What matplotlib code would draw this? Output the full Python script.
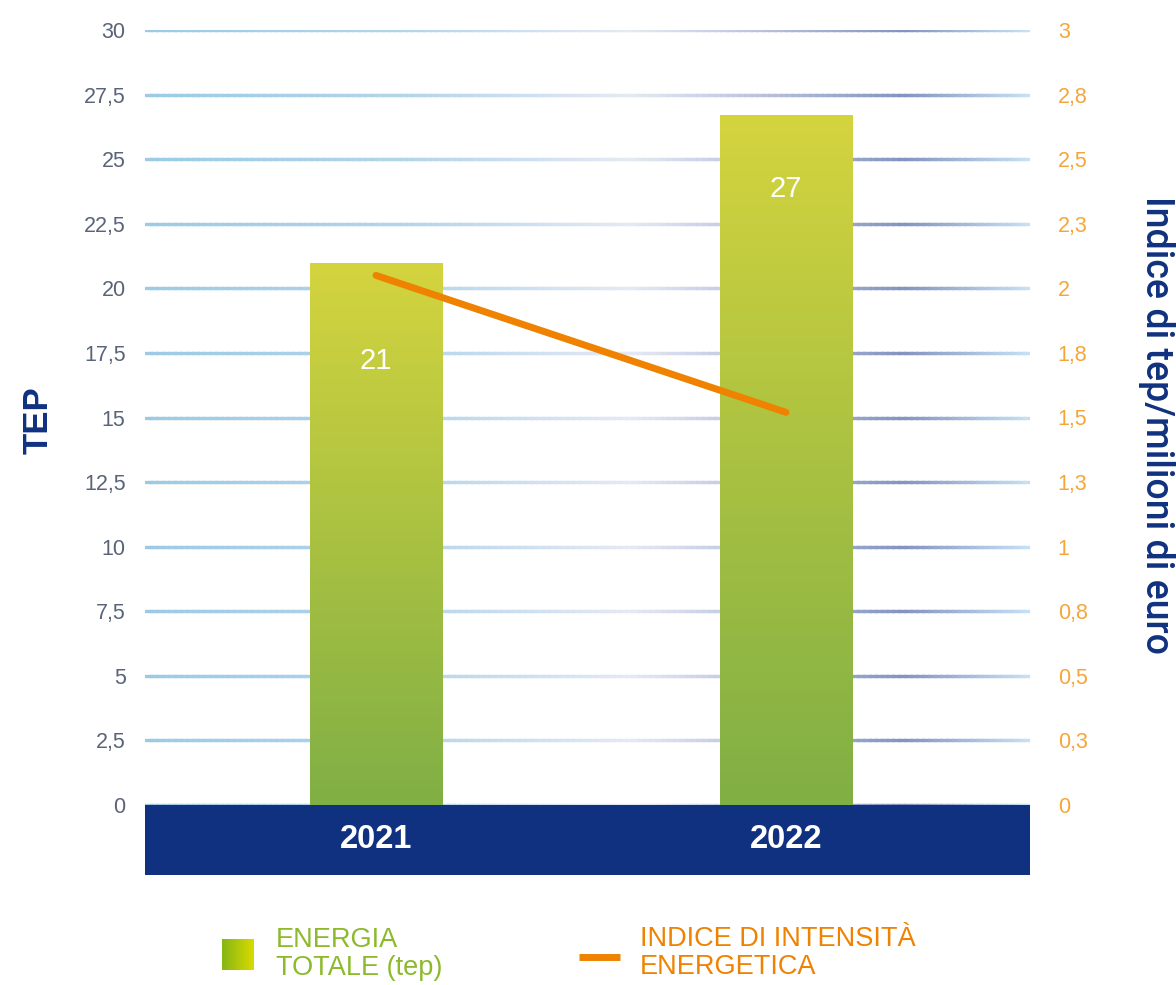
import numpy as np
import matplotlib.pyplot as plt
from matplotlib.collections import LineCollection
from matplotlib.colors import LinearSegmentedColormap
from matplotlib.patches import Rectangle
from matplotlib.lines import Line2D

# dati
years = ['2021', '2022']
energia_tep = [21.0, 26.7]
energia_labels = ['21', '27']
indice_intensita = [2.05, 1.52]

left_ticks = [0, 2.5, 5, 7.5, 10, 12.5, 15, 17.5, 20, 22.5, 25, 27.5, 30]
left_tick_labels = ['0', '2,5', '5', '7,5', '10', '12,5', '15', '17,5', '20', '22,5', '25', '27,5', '30']
right_ticks = [0, 0.25, 0.5, 0.75, 1, 1.25, 1.5, 1.75, 2, 2.25, 2.5, 2.75, 3]
right_tick_labels = ['0', '0,3', '0,5', '0,8', '1', '1,3', '1,5', '1,8', '2', '2,3', '2,5', '2,8', '3']

NAVY = '#10317f'
ORANGE = '#ef8200'
GREEN_TXT = '#8cba2c'

plt.rcParams['font.family'] = ['Liberation Sans', 'DejaVu Sans']

W, H = 1176, 985
fig = plt.figure(figsize=(W / 100, H / 100), dpi=100)
ax = fig.add_axes([145 / W, 1 - 805 / H, 885 / W, 775 / H])
x = np.arange(len(years))

# griglia con sfumatura
grid_cmap = LinearSegmentedColormap.from_list('grid', [
    (0.0, '#9ccae5'), (0.3, '#b3d5eb'), (0.55, '#e5e9f4'),
    (0.7, '#b8c2de'), (0.86, '#8494c0'), (1.0, '#c4e0f5')])
xs = np.linspace(0, 1, 150)
segs, cols = [], []
for yv in left_ticks:
    for i in range(len(xs) - 1):
        segs.append([(xs[i], yv), (xs[i + 1], yv)])
        cols.append(grid_cmap((xs[i] + xs[i + 1]) / 2))
lc = LineCollection(segs, colors=cols, linewidths=2.4,
                    transform=ax.get_yaxis_transform(), zorder=1, capstyle='projecting')
ax.add_collection(lc)

# barre con gradiente verticale
bar_cmap = LinearSegmentedColormap.from_list('bar', ['#80af45', '#d4d43e'])
bars = ax.bar(x, energia_tep, width=0.322, color='none', edgecolor='none', zorder=2)
grad = np.linspace(1, 0, 256).reshape(-1, 1)
for b in bars:
    im = ax.imshow(grad, extent=[b.get_x(), b.get_x() + b.get_width(), 0, b.get_height()],
                   cmap=bar_cmap, aspect='auto', origin='upper', zorder=2)
    im.set_clip_path(b)

label_offsets = [71, 53]
for xi, h, lab, off in zip(x, energia_tep, energia_labels, label_offsets):
    ax.annotate(lab, (xi, h), xytext=(0, -off), textcoords='offset points',
                ha='center', va='center', color='white', fontsize=21, zorder=4)

ax.set_xlim(-0.5634, 1.595)
ax.set_ylim(0, 30)
ax.set_yticks(left_ticks, left_tick_labels)
ax.tick_params(axis='y', length=0, pad=14, labelsize=15.5, labelcolor='#5a6479')
ax.set_xticks([])
for s in ax.spines.values():
    s.set_visible(False)

# banda blu con anni
ax.add_patch(Rectangle((0, -0.0903), 1, 0.0903, transform=ax.transAxes,
                       facecolor=NAVY, edgecolor='none', clip_on=False, zorder=3))
for xi, yr in zip(x, years):
    ax.text(xi, -0.045, yr, transform=ax.get_xaxis_transform(), ha='center', va='center',
            color='white', fontsize=23.5, fontweight='bold', zorder=4)

# linea indice
ax2 = ax.twinx()
ax2.plot(x, indice_intensita, color=ORANGE, lw=5, solid_capstyle='round', zorder=3)
ax2.set_ylim(0, 3)
ax2.set_yticks(right_ticks, right_tick_labels)
ax2.tick_params(axis='y', length=0, pad=20, labelsize=15.5, labelcolor='#f5a63a')
for s in ax2.spines.values():
    s.set_visible(False)

fig.text(38 / W, 1 - 420 / H, 'TEP', rotation=90, ha='center', va='center',
         fontsize=25, fontweight='bold', color=NAVY)
fig.text(1156 / W, 1 - 425 / H, 'Indice di tep/milioni di euro', rotation=-90,
         ha='center', va='center', fontsize=27, fontweight='medium', color=NAVY,
         family=['Roboto', 'DejaVu Sans'])

# legenda
lax = fig.add_axes([222 / W, 1 - 970 / H, 31 / W, 31 / H])
leg_cmap = LinearSegmentedColormap.from_list('leg', ['#86b614', '#d8da00'])
lax.imshow(np.linspace(0, 1, 64).reshape(1, -1), cmap=leg_cmap, aspect='auto')
lax.axis('off')
fig.text(276 / W, 1 - 954 / H, 'ENERGIA\nTOTALE (tep)', ha='left', va='center',
         fontsize=19.5, color=GREEN_TXT, linespacing=1.08)
fig.add_artist(Line2D([579 / W, 620 / W], [1 - 957 / H] * 2, transform=fig.transFigure,
                      color=ORANGE, lw=5, solid_capstyle='butt'))
fig.text(640 / W, 1 - 953 / H, 'INDICE DI INTENSITÀ\nENERGETICA', ha='left', va='center',
         fontsize=19.5, color=ORANGE, linespacing=1.08)

fig.savefig('out.png', dpi=100)
